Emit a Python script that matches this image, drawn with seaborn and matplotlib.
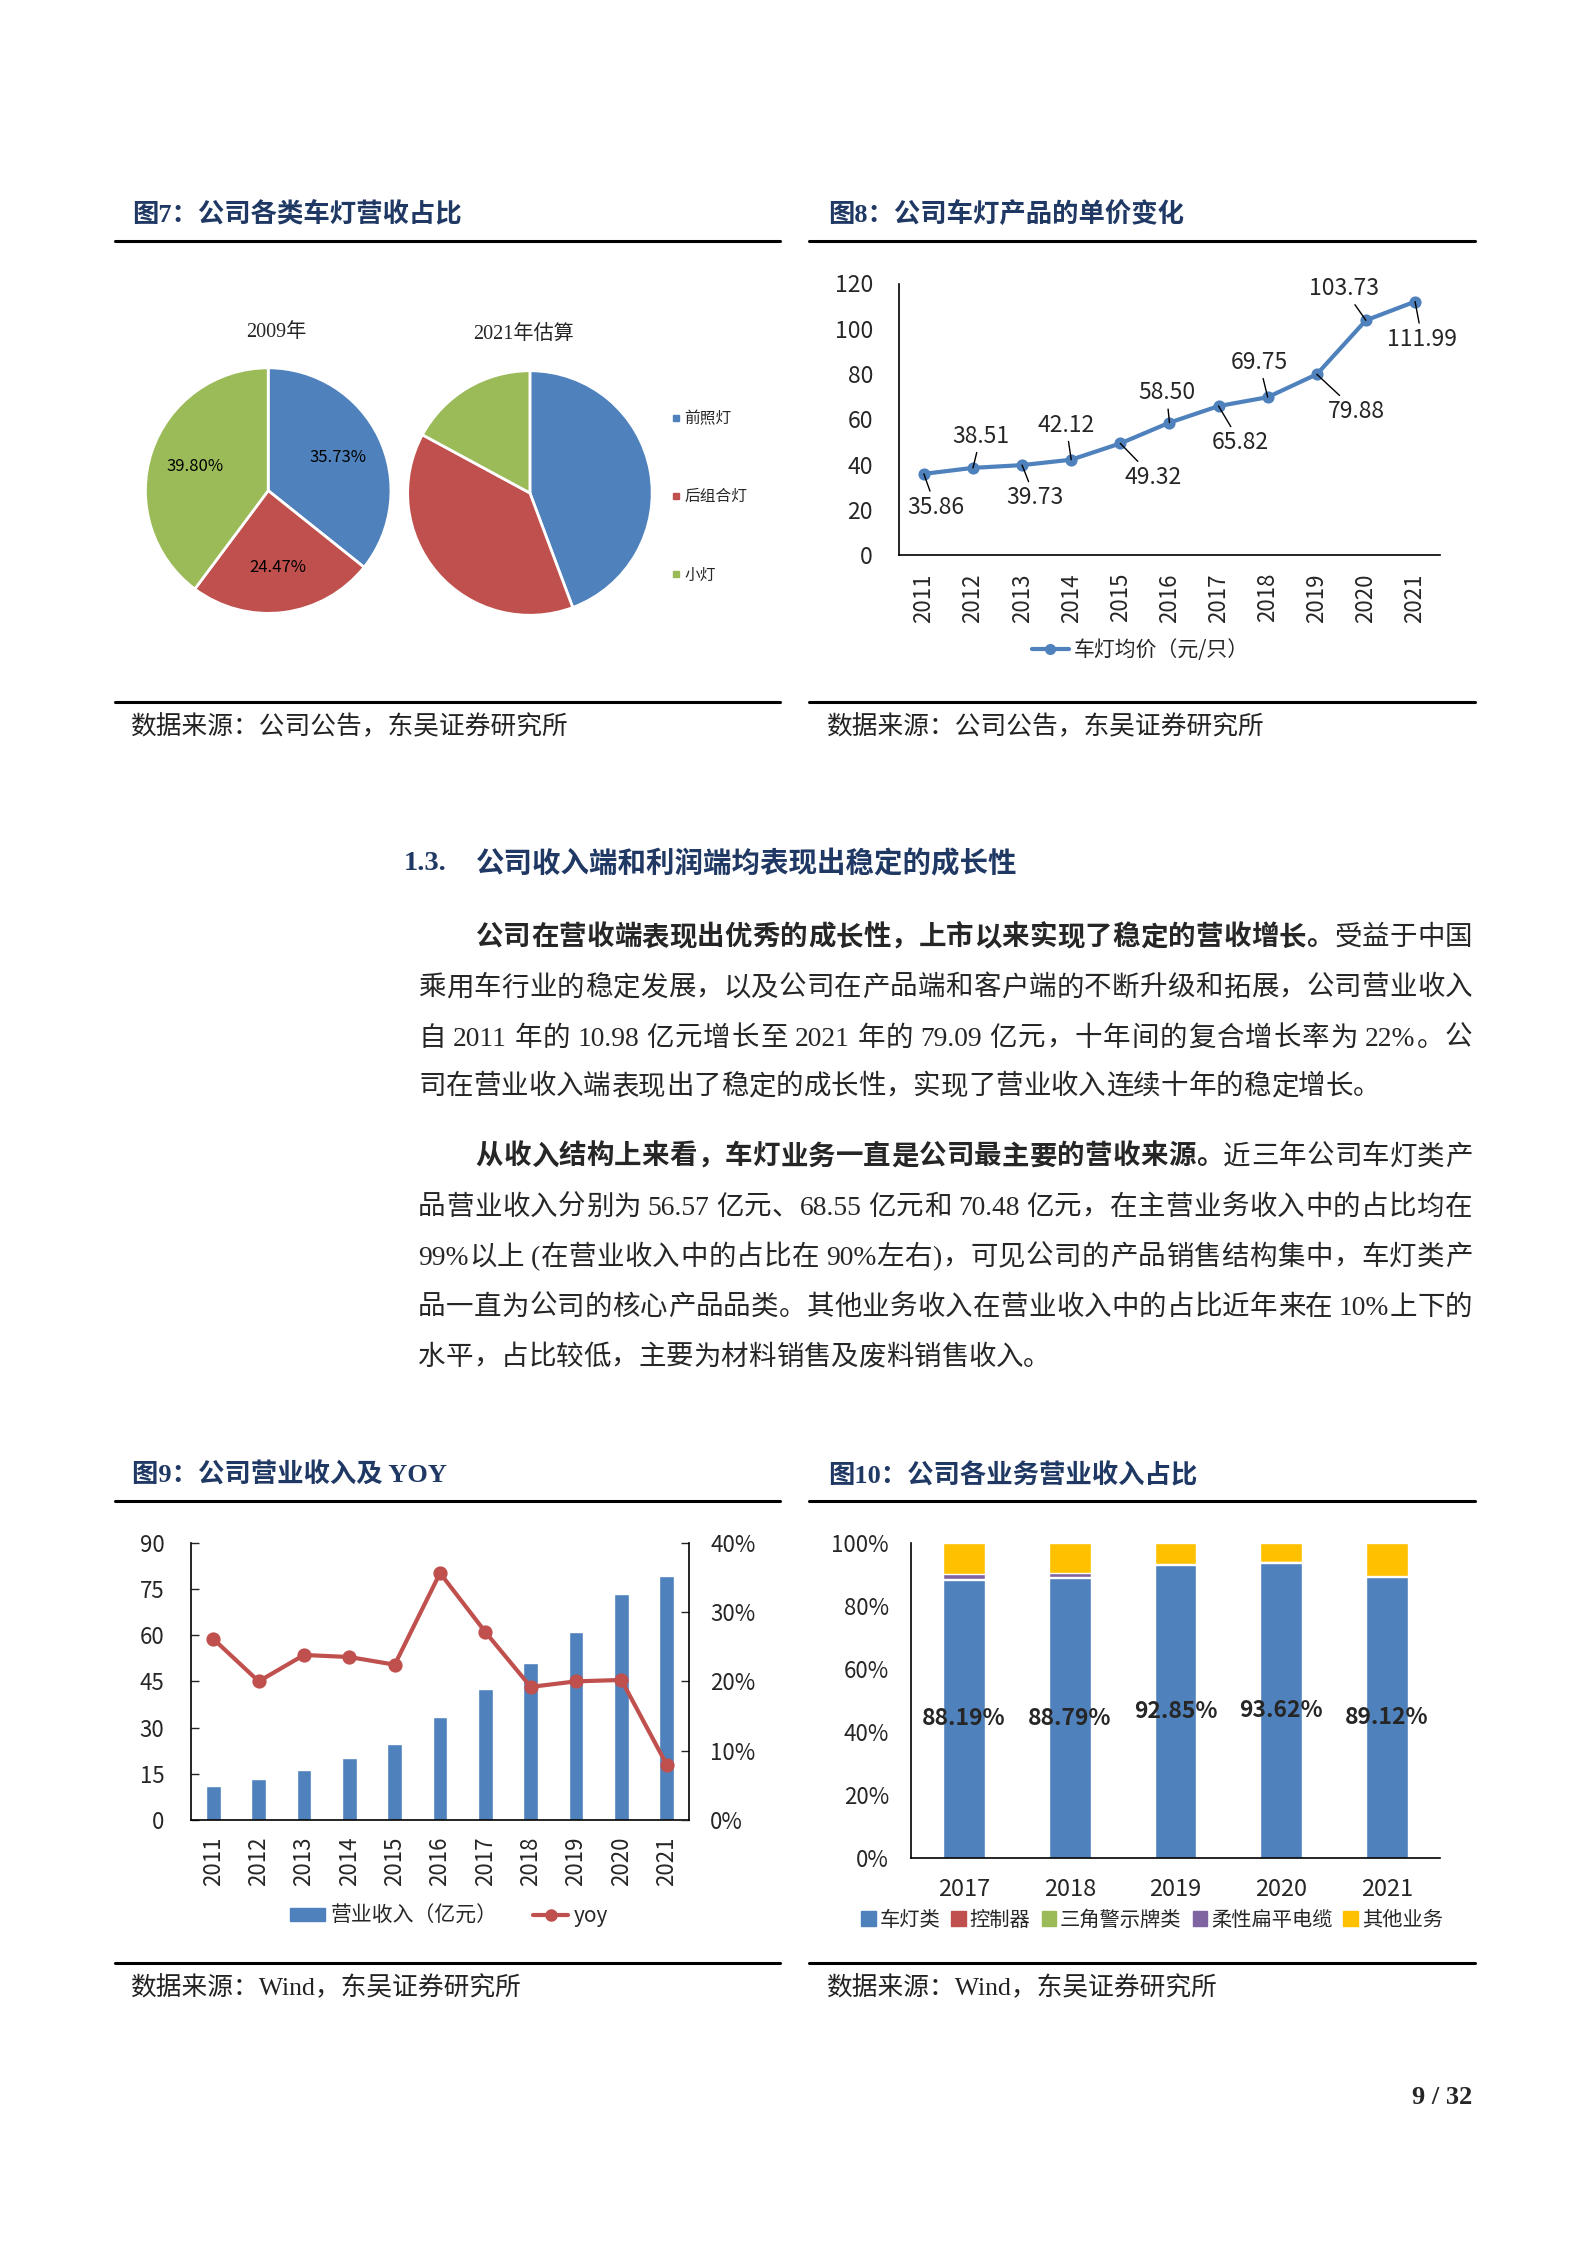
import numpy as np
import seaborn as sns
import matplotlib.pyplot as plt
from matplotlib.lines import Line2D
from matplotlib.patches import Patch
from matplotlib.ticker import PercentFormatter, FuncFormatter

# ---- data ----
pie_labels = ['前照灯', '后组合灯', '小灯']
pie_2009 = [35.73, 24.47, 39.80]
pie_2021 = [44.3, 38.6, 17.1]

years = ['2011', '2012', '2013', '2014', '2015', '2016', '2017', '2018', '2019', '2020', '2021']
unit_price = [35.86, 38.51, 39.73, 42.12, 49.32, 58.50, 65.82, 69.75, 79.88, 103.73, 111.99]
revenue = [10.98, 13.2, 16.3, 20.2, 24.7, 33.4, 42.6, 50.8, 60.93, 73.22, 79.09]
yoy = [0.261, 0.200, 0.238, 0.235, 0.224, 0.356, 0.271, 0.192, 0.200, 0.202, 0.080]

biz_years = ['2017', '2018', '2019', '2020', '2021']
biz_names = ['车灯类', '控制器', '三角警示牌类', '柔性扁平电缆', '其他业务']
lamp = [88.19, 88.79, 92.85, 93.62, 89.12]
controller = [0.05, 0.05, 0.0, 0.0, 0.0]
triangle = [0.30, 0.20, 0.10, 0.10, 0.0]
cable = [1.60, 1.30, 0.30, 0.10, 0.20]
other = [9.86, 9.66, 6.75, 6.18, 10.68]

BLUE, RED, GREEN, PURPLE, YELLOW = '#4F81BD', '#C0504D', '#9BBB59', '#8064A2', '#FFC000'
NAVY = '#1F3864'

sns.set_style('white')
plt.rcParams['font.family'] = ['Noto Sans CJK SC', 'DejaVu Sans']
plt.rcParams['axes.unicode_minus'] = False
serif = ['Liberation Serif', 'Noto Sans CJK SC']

W, H = 1587, 2245
fig = plt.figure(figsize=(W / 100, H / 100), dpi=100)


def fx(x):
    return x / W


def fy(y):
    return 1 - y / H


def add_ax(l, t, r, b):
    return fig.add_axes([fx(l), fy(b), (r - l) / W, (b - t) / H])


def cat_ticks(ax, n):
    # boundary ticks pointing inwards, no ticks at category centres
    ax.set_xticks(np.arange(-0.5, n, 1), minor=True)
    ax.tick_params(axis='x', which='minor', direction='in', length=6, width=1, color='black')
    ax.tick_params(axis='x', which='major', length=0)
    ax.set_xlim(-0.5, n - 0.5)


def style_spines(ax, keep=('left', 'bottom')):
    for s in ax.spines:
        ax.spines[s].set_visible(s in keep)
        ax.spines[s].set_color('black')
        ax.spines[s].set_linewidth(1.2)


# ---- page furniture ----
for x0, x1 in [(115, 780), (809, 1475)]:
    for y in [240.5, 702, 1501.3, 1962.8]:
        fig.add_artist(Line2D([fx(x0), fx(x1)], [fy(y), fy(y)], color='black', lw=2.2))

titles = [(132, 214.7, '图7：公司各类车灯营收占比'), (828, 214.7, '图8：公司车灯产品的单价变化'),
          (132, 1475.5, '图9：公司营业收入及 YOY'), (828, 1475.5, '图10：公司各业务营业收入占比')]
for x, y, t in titles:
    fig.text(fx(x), fy(y), t, fontsize=19, weight='bold', color=NAVY, family=serif, va='center')

sources = [(130, 727, '数据来源：公司公告，东吴证券研究所'), (826, 727, '数据来源：公司公告，东吴证券研究所'),
           (130, 1988, '数据来源：Wind，东吴证券研究所'), (826, 1988, '数据来源：Wind，东吴证券研究所')]
for x, y, t in sources:
    fig.text(fx(x), fy(y), t, fontsize=18.5, color='#222222', family=serif, va='center')

# section heading
fig.text(fx(404), fy(864), '1.3.', fontsize=20.5, weight='bold', color=NAVY, family=serif, va='center')
fig.text(fx(475.5), fy(864), '公司收入端和利润端均表现出稳定的成长性', fontsize=20.5, weight='bold',
         color=NAVY, family=serif, va='center')

fig.text(fx(1472), fy(2098), '9 / 32', fontsize=19, weight='bold', family=serif, ha='right', va='center')

# ---- body text, justified between the margins ----
renderer = fig.canvas.get_renderer()
BODY = 19.8


def tokens(s):
    out, buf = [], ''
    for ch in s:
        if ord(ch) < 128 and ch != ' ':
            buf += ch
        else:
            if buf:
                out.append(buf)
                buf = ''
            out.append(ch)
    if buf:
        out.append(buf)
    return out


def put_line(y, segs, x0, x1=1472.4, justify=True):
    items = []
    for s, bold in segs:
        for t in tokens(s):
            if t == ' ':
                items.append((None, 5.5))
                continue
            txt = fig.text(0, fy(y + 10), t, fontsize=BODY, family=serif,
                           weight='bold' if bold else 'normal', va='baseline', ha='left')
            items.append((txt, txt.get_window_extent(renderer).width))
    total = sum(w for _, w in items)
    gap = (x1 - x0 - total) / (len(items) - 1) if justify else 0
    x = x0
    for txt, w in items:
        if txt is not None:
            txt.set_x(fx(x))
        x += w + gap


put_line(935.3, [('公司在营收端表现出优秀的成长性，上市以来实现了稳定的营收增长。', True), ('受益于中国', False)], 475.5)
put_line(985.4, [('乘用车行业的稳定发展，以及公司在产品端和客户端的不断升级和拓展，公司营业收入', False)], 418.2)
put_line(1035.5, [('自 2011 年的 10.98 亿元增长至 2021 年的 79.09 亿元，十年间的复合增长率为 22%。公', False)], 418.2)
put_line(1084.2, [('司在营业收入端表现出了稳定的成长性，实现了营业收入连续十年的稳定增长。', False)], 418.2, justify=False)

put_line(1154.4, [('从收入结构上来看，车灯业务一直是公司最主要的营收来源。', True), ('近三年公司车灯类产', False)], 475.5)
put_line(1204.6, [('品营业收入分别为 56.57 亿元、68.55 亿元和 70.48 亿元，在主营业务收入中的占比均在', False)], 418.2)
put_line(1254.7, [('99%以上 (在营业收入中的占比在 90%左右)，可见公司的产品销售结构集中，车灯类产', False)], 418.2)
put_line(1304.8, [('品一直为公司的核心产品品类。其他业务收入在营业收入中的占比近年来在 10%上下的', False)], 418.2)
put_line(1354.9, [('水平，占比较低，主要为材料销售及废料销售收入。', False)], 418.2, justify=False)

# ---- fig 7: two pies ----
pie_colors = [BLUE, RED, GREEN]
ax7a = add_ax(144.2, 366.6, 392.2, 614.6)
ax7a.pie(pie_2009, colors=pie_colors, startangle=90, counterclock=False, autopct='%.2f%%',
         pctdistance=0.63, wedgeprops=dict(edgecolor='white', linewidth=2),
         textprops=dict(fontsize=12, color='black'))
ax7b = add_ax(406.4, 369.5, 653.4, 616.5)
ax7b.pie(pie_2021, colors=pie_colors, startangle=90, counterclock=False,
         wedgeprops=dict(edgecolor='white', linewidth=2))
for ax in (ax7a, ax7b):
    ax.set_xlim(-1.01, 1.01)
    ax.set_ylim(-1.01, 1.01)
fig.text(fx(276.7), fy(333), '2009年', fontsize=14.5, family=serif, ha='center', va='center')
fig.text(fx(523.5), fy(334), '2021年估算', fontsize=14.5, family=serif, ha='center', va='center')
pie_handles = [Line2D([], [], marker='s', ls='', color=c, markersize=4.6) for c in pie_colors]
fig.legend(pie_handles, pie_labels, loc='upper left', bbox_to_anchor=(fx(672), fy(410)), frameon=False,
           fontsize=11.3, handlelength=0.5, handletextpad=0.3, labelspacing=3.9, borderpad=0, borderaxespad=0)

# ---- fig 8: unit price line ----
ax8 = add_ax(899.3, 283.5, 1439.6, 555)
sns.pointplot(x=years, y=unit_price, ax=ax8, color=BLUE, markers='o', errorbar=None,
              linewidth=3, markersize=6.5)
ax8.set_ylim(0, 120)
ax8.set_yticks(range(0, 121, 20))
ax8.set_xlabel('')
ax8.set_ylabel('')
cat_ticks(ax8, len(years))
ax8.tick_params(axis='y', direction='in', length=6, width=1, pad=19, labelsize=16.5)
ax8.tick_params(axis='x', which='major', labelrotation=90, pad=13, labelsize=16)
style_spines(ax8)
price_offsets = [(11.9, -33.3), (7.7, 31.5), (12.8, -32.6), (-5.1, 34.4), (32.8, -33.7), (-3, 29.7),
                 (21.7, -36.5), (-8.5, 34.8), (39.6, -36.9), (-22.2, 31.5), (7.2, -37.6)]
for i, (v, off) in enumerate(zip(unit_price, price_offsets)):
    ax8.annotate(f'{v:.2f}', xy=(i, v), xytext=off, textcoords='offset pixels', ha='center', va='center',
                 fontsize=16.5, arrowprops=dict(arrowstyle='-', color='black', lw=1, shrinkA=1, shrinkB=0))
ax8.legend([Line2D([], [], color=BLUE, lw=3, marker='o', markersize=7)], ['车灯均价（元/只）'],
           loc='center', bbox_to_anchor=(fx(1140), fy(650)), bbox_transform=fig.transFigure,
           frameon=False, fontsize=15, handlelength=1.8, handletextpad=0.2)

# ---- fig 9: revenue bars + yoy line ----
ax9 = add_ax(190.7, 1542.5, 689.4, 1820.2)
sns.barplot(x=years, y=revenue, color=BLUE, width=0.32, saturation=1, ax=ax9)
ax9.set_ylim(0, 90)
ax9.set_yticks(range(0, 91, 15))
ax9b = ax9.twinx()
sns.pointplot(x=years, y=yoy, ax=ax9b, color=RED, markers='o', errorbar=None, linewidth=3, markersize=8)
ax9b.set_ylim(0, 0.4)
ax9b.set_yticks([0, 0.1, 0.2, 0.3, 0.4])
ax9b.yaxis.set_major_formatter(PercentFormatter(1, decimals=0))
for ax in (ax9, ax9b):
    ax.set_xlabel('')
    ax.set_ylabel('')
cat_ticks(ax9, len(years))
ax9.tick_params(axis='y', direction='in', length=6, width=1, pad=19, labelsize=16)
ax9.tick_params(axis='x', which='major', labelrotation=90, pad=12, labelsize=16)
ax9b.tick_params(axis='y', direction='in', length=6, width=1, pad=15, labelsize=16)
style_spines(ax9)
style_spines(ax9b, keep=('right',))
ax9b.legend([Patch(color=BLUE), Line2D([], [], color=RED, lw=3, marker='o', markersize=8)],
            ['营业收入（亿元）', 'yoy'], loc='center', ncol=2, bbox_to_anchor=(fx(449), fy(1916)),
            bbox_transform=fig.transFigure, frameon=False, fontsize=15, handlelength=1.7,
            handleheight=0.6, handletextpad=0.25, columnspacing=1.7)

# ---- fig 10: stacked business mix ----
ax10 = add_ax(911.3, 1542.5, 1439.6, 1858.2)
layers = [lamp, controller, triangle, cable, other]
layer_colors = [BLUE, RED, GREEN, PURPLE, YELLOW]
tops = np.cumsum(np.array(layers), axis=0)
for k in reversed(range(len(layers))):
    sns.barplot(x=biz_years, y=tops[k], color=layer_colors[k], width=0.395, saturation=1, ax=ax10)
for i, v in enumerate(lamp):
    ax10.text(i, v / 2, f'{v:.2f}%', ha='center', va='center', fontsize=16.5, weight='bold')
ax10.set_ylim(0, 100)
ax10.set_yticks(range(0, 101, 20))
ax10.yaxis.set_major_formatter(FuncFormatter(lambda v, p: f'{v:.0f}%'))
ax10.set_xlabel('')
ax10.set_ylabel('')
cat_ticks(ax10, len(biz_years))
ax10.tick_params(axis='y', direction='in', length=6, width=1, pad=16, labelsize=16)
ax10.tick_params(axis='x', which='major', pad=14, labelsize=17)
style_spines(ax10)
ax10.legend([Patch(color=c) for c in layer_colors], biz_names, loc='center', ncol=5,
            bbox_to_anchor=(fx(1152), fy(1920)), bbox_transform=fig.transFigure, frameon=False,
            fontsize=14.6, handlelength=0.7, handleheight=0.7, handletextpad=0.2, columnspacing=0.55)

fig.savefig('out.png', dpi=100)
